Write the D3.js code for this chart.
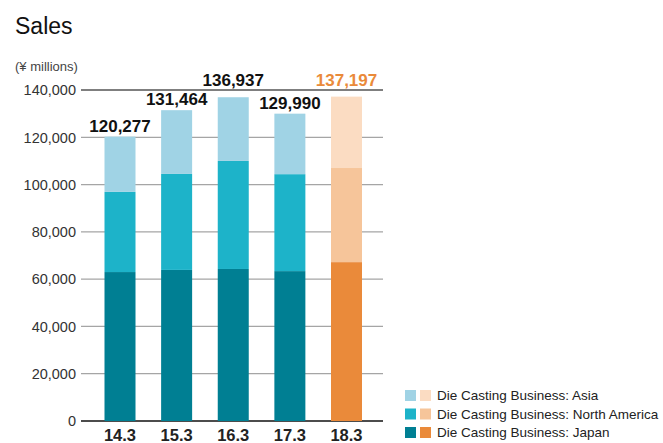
<!DOCTYPE html>
<html>
<head>
<meta charset="utf-8">
<script src="https://cdn.jsdelivr.net/npm/d3@7"></script>
<style>
  body { margin: 0; background: #fff; }
  svg { font-family: "Liberation Sans", Arial, sans-serif; }
</style>
</head>
<body>
<svg id="chart" width="663" height="443"></svg>
<script>
const years = ['14.3', '15.3', '16.3', '17.3', '18.3'];
const totals = [120277, 131464, 136937, 129990, 137197];
const japan = [63000, 63900, 64300, 63400, 67200];
const northAmerica = [33900, 40600, 45700, 41000, 39800];
const yTicks = [0, 20000, 40000, 60000, 80000, 100000, 120000, 140000];
const legendLabels = ['Die Casting Business: Asia', 'Die Casting Business: North America', 'Die Casting Business: Japan'];

// colours: [Asia, North America, Japan], blue for actuals, orange for the forecast year
const blues = ['#a0d3e5', '#1db3c9', '#007f93'];
const oranges = ['#fbdcc2', '#f6c59a', '#ea8a3a'];

const svg = d3.select('#chart');

const x = d3.scalePoint().domain(years).range([120, 346.5]);
const y = d3.scaleLinear().domain([0, 140000]).range([421, 90]);
const barW = 31;

svg.append('text')
    .attr('x', 15).attr('y', 34)
    .attr('font-size', 23)
    .attr('fill', '#111')
    .text('Sales');

svg.append('text')
    .attr('x', 15).attr('y', 71)
    .attr('font-size', 13)
    .attr('fill', '#444')
    .text('(¥ millions)');

// grid lines
svg.selectAll('.grid')
    .data(yTicks)
    .enter().append('line')
    .attr('x1', 81).attr('x2', 383)
    .attr('y1', d => y(d)).attr('y2', d => y(d))
    .attr('stroke', d => d === 0 ? '#111' : (d === 140000 ? '#555' : '#a5a5a5'))
    .attr('stroke-width', d => d === 0 ? 1.5 : 1.3);

svg.selectAll('.ytick')
    .data(yTicks)
    .enter().append('text')
    .attr('x', 76)
    .attr('y', d => y(d))
    .attr('dy', '0.36em')
    .attr('text-anchor', 'end')
    .attr('font-size', 14.5)
    .attr('fill', '#333')
    .text(d => d3.format(',')(d));

const rows = years.map((yr, i) => {
    const asia = totals[i] - japan[i] - northAmerica[i];
    return {year: yr, parts: [japan[i], northAmerica[i], asia], total: totals[i], forecast: i === years.length - 1};
});

const bars = svg.selectAll('.bar')
    .data(rows)
    .enter().append('g')
    .attr('class', 'bar');

bars.each(function(d) {
    const g = d3.select(this);
    const pal = d.forecast ? oranges : blues;
    let base = 0;
    // japan, north america, asia stacked bottom to top
    d.parts.forEach((v, k) => {
        g.append('rect')
            .attr('x', x(d.year) - barW / 2)
            .attr('width', barW)
            .attr('y', y(base + v))
            .attr('height', y(base) - y(base + v))
            .attr('fill', pal[2 - k]);
        base += v;
    });
});

// labels move above the top grid line when they would cross it
bars.append('text')
    .attr('x', d => x(d.year))
    .attr('y', d => {
        let ly = y(d.total) - 5;
        return ly - 13 < y(140000) ? y(140000) - 4 : ly;
    })
    .attr('text-anchor', 'middle')
    .attr('font-size', 17)
    .attr('font-weight', 'bold')
    .attr('fill', d => d.forecast ? '#ea8a3a' : '#111')
    .text(d => d3.format(',')(d.total));

svg.selectAll('.xlabel')
    .data(years)
    .enter().append('text')
    .attr('x', d => x(d))
    .attr('y', 441)
    .attr('text-anchor', 'middle')
    .attr('font-size', 16.5)
    .attr('font-weight', 'bold')
    .attr('fill', '#222')
    .text(d => d);

// legend
const legend = svg.selectAll('.legend')
    .data(legendLabels)
    .enter().append('g')
    .attr('transform', (d, i) => 'translate(405,' + (390 + i * 18.5) + ')');

legend.append('rect')
    .attr('width', 11).attr('height', 11)
    .attr('fill', (d, i) => blues[i]);

legend.append('rect')
    .attr('x', 15)
    .attr('width', 11).attr('height', 11)
    .attr('fill', (d, i) => oranges[i]);

legend.append('text')
    .attr('x', 32)
    .attr('y', 5.5)
    .attr('dy', '0.36em')
    .attr('font-size', 13.5)
    .attr('fill', '#222')
    .text(d => d);
</script>
</body>
</html>
